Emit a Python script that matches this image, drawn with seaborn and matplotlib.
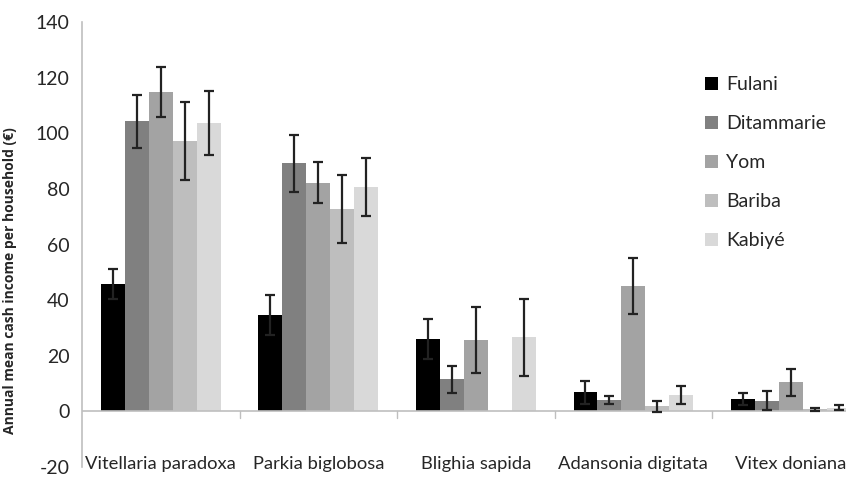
import seaborn as sns
import pandas as pd
import numpy as np
import matplotlib.pyplot as plt

# values
species = ["Vitellaria paradoxa", "Parkia biglobosa", "Blighia sapida",
           "Adansonia digitata", "Vitex doniana"]
groups = ["Fulani", "Ditammarie", "Yom", "Bariba", "Kabiyé"]

fulani = [45.8, 34.6, 25.9, 6.8, 4.5]
ditammarie = [104.3, 89.2, 11.5, 4.1, 3.8]
yom = [115.0, 82.2, 25.7, 45.2, 10.4]
bariba = [97.3, 72.8, 0.0, 1.8, 0.7]
kabiye = [103.6, 80.7, 26.6, 5.9, 1.3]

fulani_err = [5.5, 7.3, 7.2, 4.1, 2.1]
ditammarie_err = [9.5, 10.3, 4.9, 1.5, 3.4]
yom_err = [9.0, 7.3, 11.9, 10.1, 5.0]
bariba_err = [14.0, 12.2, np.nan, 2.0, 0.7]
kabiye_err = [11.5, 10.3, 13.9, 3.2, 0.9]

colors = ["#000000", "#808080", "#a3a3a3", "#bebebe", "#d9d9d9"]

values = [fulani, ditammarie, yom, bariba, kabiye]
errors = [fulani_err, ditammarie_err, yom_err, bariba_err, kabiye_err]

df = pd.DataFrame({
    "species": species * len(groups),
    "group": [g for g in groups for _ in species],
    "income": [v for vals in values for v in vals],
})

sns.set_style("white")
plt.rcParams["font.family"] = ["Lato", "DejaVu Sans"]
plt.rcParams["axes.unicode_minus"] = False

fig = plt.figure(figsize=(8.46, 4.79), dpi=100)
ax = fig.add_axes([0.097, 0.025, 0.903, 0.929])

sns.barplot(data=df, x="species", y="income", hue="group", hue_order=groups,
            order=species, palette=colors, saturation=1, width=0.76,
            errorbar=None, gap=0, linewidth=0, ax=ax)

# error bars on top of each bar
for cont, err in zip(ax.containers, errors):
    for bar, e in zip(cont, err):
        if np.isnan(e):
            continue
        xc = bar.get_x() + bar.get_width() / 2
        ax.errorbar(xc, bar.get_height(), yerr=e, color="#222222",
                    elinewidth=1.6, capsize=3.8, capthick=1.6, zorder=5)

ax.set_xlim(-0.5, 4.35)
ax.set_ylim(-20, 140)
ax.set_yticks(range(-20, 141, 20))
ax.set_ylabel("Annual mean cash income per household (€)", fontsize=10,
              fontweight="bold", family=["Open Sans", "DejaVu Sans"])
ax.yaxis.set_label_coords(-0.085, 0.42)
ax.set_xlabel("")

for s in ["top", "right", "bottom"]:
    ax.spines[s].set_visible(False)
ax.spines["left"].set_color("#bfbfbf")
ax.spines["left"].set_linewidth(1.2)

# x axis line drawn at zero, group dividers as small ticks
ax.axhline(0, color="#bfbfbf", lw=1.2, zorder=1)
for b in np.arange(0.5, len(species) - 0.5, 1):
    ax.plot([b, b], [0, -2.5], color="#bfbfbf", lw=1.0, clip_on=False)

ax.tick_params(axis="y", length=6, color="#bfbfbf", width=1.2,
               labelsize=14, pad=3)
ax.tick_params(axis="x", length=0, labelsize=13.2, pad=-8)

ax.legend(loc="upper left", bbox_to_anchor=(0.824, 0.857),
          bbox_transform=fig.transFigure, frameon=False, fontsize=14,
          handlelength=0.7, handleheight=0.7, handletextpad=0.4,
          labelspacing=1.13, borderaxespad=0)

fig.savefig("out.png", dpi=100)
